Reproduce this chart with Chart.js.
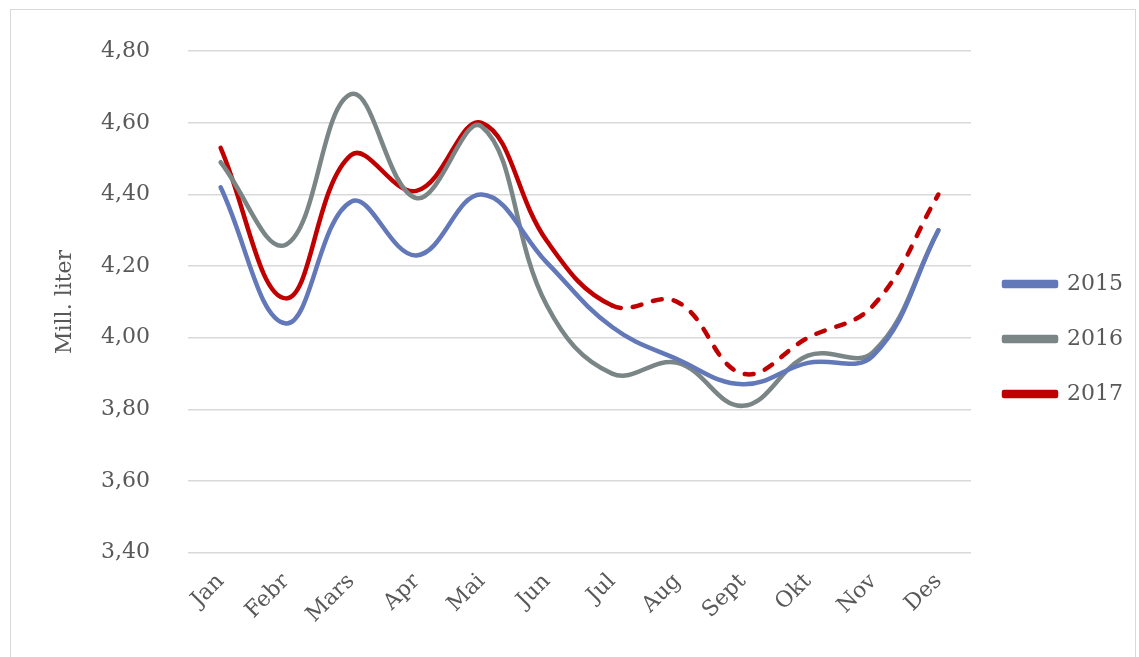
<!DOCTYPE html>
<html>
<head>
<meta charset="utf-8">
<script src="https://cdn.jsdelivr.net/npm/chart.js@4"></script>
<style>
  html, body { margin: 0; padding: 0; background: #fff; }
  #frame { position: absolute; left: 10px; top: 9px; width: 1124px; height: 670px; border: 1.5px solid #d9d9d9; }
  #wrap { position: absolute; left: 0; top: 0; width: 1139px; height: 657px; }
</style>
</head>
<body>
<div id="frame"></div>
<div id="wrap"><canvas id="chart"></canvas></div>
<script>
// months on the x axis
const months = ["Jan", "Febr", "Mars", "Apr", "Mai", "Jun", "Jul", "Aug", "Sept", "Okt", "Nov", "Des"];

// million liters per month
const y2015 = [4.42, 4.04, 4.38, 4.23, 4.40, 4.21, 4.03, 3.94, 3.87, 3.93, 3.95, 4.30];
const y2016 = [4.49, 4.26, 4.68, 4.39, 4.59, 4.09, 3.90, 3.93, 3.81, 3.95, 3.96, 4.30];
const y2017 = [4.53, 4.11, 4.51, 4.41, 4.60, 4.27, 4.09, 4.10, 3.90, 4.00, 4.09, 4.40];

// 2017 is dashed from this month on (estimate)
const dashFrom = 6;

const yMin = 3.4, yMax = 4.8, yStep = 0.2;

const font = "'DejaVu Serif', 'Liberation Serif', serif";
const textColor = "#595959";

function line(label, data, color) {
  return {
    label: label,
    data: data,
    borderColor: color,
    backgroundColor: color,
    borderWidth: 4.5,
    borderCapStyle: "round",
    borderJoinStyle: "round",
    tension: 0.4,
    pointRadius: 0,
    pointHoverRadius: 0
  };
}

const ds2017 = line("2017", y2017, "#c00000");
ds2017.segment = {
  borderDash: ctx => ctx.p0DataIndex >= dashFrom ? [9, 12] : undefined
};

new Chart(document.getElementById("chart"), {
  type: "line",
  data: {
    labels: months,
    datasets: [
      line("2015", y2015, "#6278b8"),
      line("2016", y2016, "#7a8585"),
      ds2017
    ]
  },
  options: {
    responsive: true,
    maintainAspectRatio: false,
    animation: false,
    layout: { padding: { top: 18, right: 6, bottom: 21, left: 48 } },
    plugins: {
      tooltip: { enabled: false },
      legend: {
        position: "right",
        title: { display: true, text: " ", font: { size: 10 }, padding: { top: 0, bottom: 12 } },
        labels: {
          boxWidth: 52,
          boxHeight: 4,
          padding: 33,
          color: textColor,
          font: { family: font, size: 22 }
        }
      }
    },
    scales: {
      x: {
        offset: true,
        grid: { display: false },
        border: { display: false },
        ticks: {
          color: textColor,
          font: { family: font, size: 22 },
          maxRotation: 45,
          minRotation: 45,
          padding: 8
        }
      },
      y: {
        min: yMin,
        max: yMax,
        afterFit: s => { s.width = 140; },
        grid: { color: "#d9d9d9", lineWidth: 1.5, drawTicks: false },
        border: { display: false },
        title: {
          display: true,
          text: "Mill. liter",
          color: textColor,
          font: { family: font, size: 22 },
          padding: { top: 4, bottom: 0 }
        },
        ticks: {
          stepSize: yStep,
          color: textColor,
          font: { family: font, size: 22 },
          padding: 38,
          callback: v => Number(v).toFixed(2).replace(".", ",")
        }
      }
    }
  }
});
</script>
</body>
</html>
